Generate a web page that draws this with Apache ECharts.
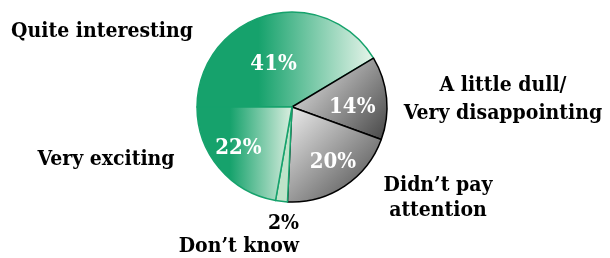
<!DOCTYPE html>
<html>
<head>
<meta charset="utf-8">
<script src="https://cdn.jsdelivr.net/npm/echarts@6/dist/echarts.min.js"></script>
<style>
  html, body { margin: 0; padding: 0; background: #fff; }
  #main { width: 610px; height: 258px; }
</style>
</head>
<body>
<div id="main"></div>
<script>
// 数据
var categories = ['Quite interesting', 'A little dull/\nVery disappointing', 'Didn\u2019t pay\nattention', 'Don\u2019t know', 'Very exciting'];
var values = [41, 14, 20, 2, 22];
// 2% 的标签放在外面
var outerLabels = ['Quite interesting', 'A little dull/\nVery disappointing', 'Didn\u2019t pay\nattention', '2%\nDon\u2019t know', 'Very exciting'];

var myChart = echarts.init(document.getElementById('main'));

function green(c0, c1) {
    return new echarts.graphic.LinearGradient(0, 0, 1, 0, [
        {offset: 0, color: c0},
        {offset: 0.35, color: c0},
        {offset: 1, color: c1}
    ]);
}
function grey() {
    return new echarts.graphic.LinearGradient(0, 0, 1, 1, [
        {offset: 0, color: '#efefef'},
        {offset: 1, color: '#454545'}
    ]);
}

var fills = [
    {color: green('#16a26c', '#e8f5eb'), borderColor: '#16a26c'},
    {color: grey(), borderColor: '#000'},
    {color: grey(), borderColor: '#000'},
    {color: '#bfe3c9', borderColor: '#16a26c'},
    {color: green('#16a26c', '#dcefe1'), borderColor: '#16a26c'}
];

var font = '"DejaVu Serif Condensed", "DejaVu Serif", serif';

// 内部百分比标签位置微调
var innerShift = [[-5, 6], [10, 5], [13, 13], [0, 0], [-15, 9]];
// 外部标签位置 [x, y, align, lineHeight]
var outerPos = [
    [102, 32, 'center', 27],
    [503, 100, 'center', 28],
    [438, 198, 'center', 25],
    [299, 235, 'right', 23],
    [106, 160, 'center', 27]
];

var pieData = values.map(function (v, i) {
    return {
        value: v,
        name: categories[i],
        itemStyle: {color: fills[i].color, borderColor: fills[i].borderColor, borderWidth: 1.5},
        label: {show: i !== 3}
    };
});
var nameData = values.map(function (v, i) {
    return {value: v, name: outerLabels[i], label: {lineHeight: outerPos[i][3]}};
});

option = {
    animation: false,
    series: [
        {
            type: 'pie',
            center: [292, 107],
            radius: 95,
            startAngle: 180,
            clockwise: true,
            data: pieData,
            label: {
                position: 'inside',
                formatter: '{c}%',
                color: '#fff',
                fontFamily: font,
                fontWeight: 'bold',
                fontSize: 22
            },
            labelLayout: function (p) {
                return {dx: innerShift[p.dataIndex][0], dy: innerShift[p.dataIndex][1]};
            }
        },
        {
            type: 'pie',
            silent: true,
            center: [292, 107],
            radius: 95,
            startAngle: 180,
            clockwise: true,
            data: nameData,
            itemStyle: {color: 'rgba(0,0,0,0)'},
            labelLine: {show: false},
            label: {
                position: 'outside',
                color: '#000',
                fontFamily: font,
                fontWeight: 'bold',
                fontSize: 21,
                overflow: 'none'
            },
            labelLayout: function (p) {
                var o = outerPos[p.dataIndex];
                return {x: o[0], y: o[1], align: o[2], verticalAlign: 'middle'};
            }
        }
    ]
};

myChart.setOption(option);
</script>
</body>
</html>
